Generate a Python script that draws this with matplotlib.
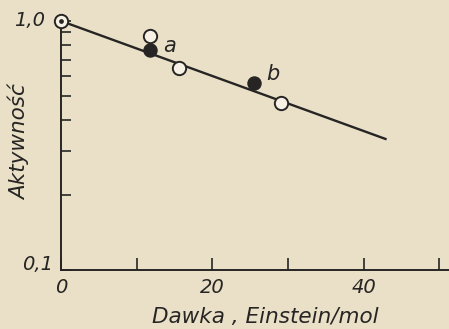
import matplotlib
matplotlib.use('Agg')
import matplotlib.pyplot as plt

# dane
dawka_otwarte = [0, 11.7, 15.6, 29.1]
akt_otwarte = [1.0, 0.87, 0.647, 0.469]
dawka_pelne = [11.7, 25.5]
akt_pelne = [0.765, 0.564]
linia_x = [0, 42.9]
linia_y = [1.0, 0.336]
etykiety = ['a', 'b']
etykiety_x = [14.4, 28.0]
etykiety_y = [0.794, 0.612]

tlo = '#eae0c7'
tusz = '#262524'

fig = plt.figure(figsize=(4.49, 3.29), dpi=100, facecolor=tlo)
ax = fig.add_axes([0.1359, 0.1793, 0.8641, 0.7569])
ax.set_facecolor(tlo)

ax.set_yscale('log')
ax.set_xlim(0, 51.3)
ax.set_ylim(0.1, 1.0)

ax.plot(linia_x, linia_y, color=tusz, lw=1.7, zorder=2, clip_on=False)
ax.plot(dawka_otwarte, akt_otwarte, 'o', ms=9.6, mfc='#f6f1e4', mec=tusz, mew=1.4,
        zorder=3, clip_on=False)
ax.plot(dawka_pelne, akt_pelne, 'o', ms=9.4, mfc=tusz, mec=tusz, zorder=3, clip_on=False)
# kropka w srodku punktu (0; 1,0)
ax.plot(dawka_otwarte[:1], akt_otwarte[:1], 'o', ms=2.4, color=tusz, zorder=4, clip_on=False)

for t, x, y in zip(etykiety, etykiety_x, etykiety_y):
    ax.text(x, y, t, fontsize=15, style='italic', color=tusz, ha='center', va='center')

for s in ['top', 'right']:
    ax.spines[s].set_visible(False)
for s in ['left', 'bottom']:
    ax.spines[s].set_color(tusz)
    ax.spines[s].set_linewidth(1.4)

ax.set_xticks([0, 20, 40])
ax.set_xticklabels(['0', '20', '40'])
ax.set_xticks([10, 30, 50], minor=True)
ax.tick_params(axis='x', which='both', direction='in', length=9, width=1.2, color=tusz,
               labelsize=14, pad=6, labelcolor=tusz)
for lab in ax.get_xticklabels():
    lab.set_style('italic')

ax.set_yticks([0.1, 1.0])
ax.set_yticks([0.2, 0.3, 0.4, 0.5, 0.6, 0.7, 0.8, 0.9], minor=True)
ax.yaxis.set_minor_formatter(plt.NullFormatter())
ax.tick_params(axis='y', which='both', direction='in', length=7, width=1.2, color=tusz,
               labelleft=False)

fig.text(45 / 449, 1 - 21 / 329, '1,0', fontsize=14, style='italic', color=tusz,
         ha='right', va='center')
fig.text(53 / 449, 1 - 265 / 329, '0,1', fontsize=14, style='italic', color=tusz,
         ha='right', va='center')

fig.text(265.5 / 449, 1 - 317 / 329, 'Dawka , Einstein/mol', fontsize=15.5, style='italic',
         color=tusz, ha='center', va='center')
fig.text(19 / 449, 1 - 142.5 / 329, 'Aktywność', fontsize=15.5, style='italic',
         color=tusz, ha='center', va='center', rotation=90)

fig.savefig('out.png', dpi=100, facecolor=tlo)
